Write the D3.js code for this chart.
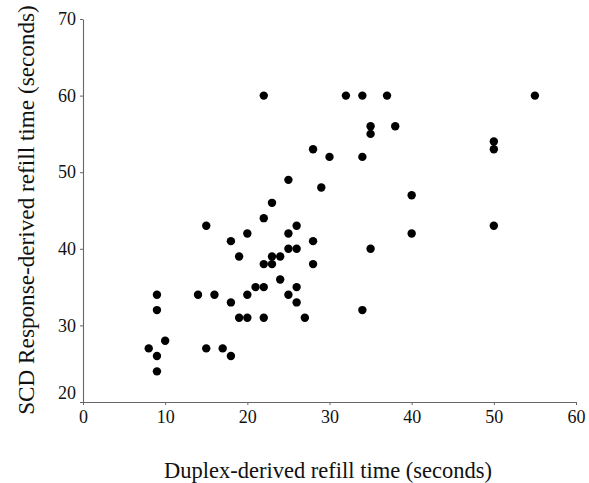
<!DOCTYPE html>
<html>
<head>
<meta charset="utf-8">
<script src="https://cdn.jsdelivr.net/npm/d3@7"></script>
<style>
  body { margin: 0; background: #fff; }
  text { font-family: "Liberation Serif", "Times New Roman", serif; fill: #111; }
</style>
</head>
<body>
<svg id="chart" width="589" height="483"></svg>
<script>

// Duplex-derived refill time (x) vs SCD response-derived refill time (y), seconds
const duplexTimes = [22, 32, 34, 37, 55, 35, 38, 35, 50, 50, 28, 30, 34, 25, 29, 40, 23, 22,
                     15, 26, 50, 20, 25, 40, 18, 28, 25, 26, 35, 19, 23, 24, 22, 23, 28, 24,
                     21, 22, 26, 9, 14, 16, 20, 25, 18, 26, 9, 34, 19, 20, 22, 27, 10, 8,
                     15, 17, 9, 18, 9];
const scdTimes    = [60, 60, 60, 60, 60, 56, 56, 55, 54, 53, 53, 52, 52, 49, 48, 47, 46, 44,
                     43, 43, 43, 42, 42, 42, 41, 41, 40, 40, 40, 39, 39, 39, 38, 38, 38, 36,
                     35, 35, 35, 34, 34, 34, 34, 34, 33, 33, 32, 32, 31, 31, 31, 31, 28, 27,
                     27, 27, 26, 26, 24];
const xTicks = [0, 10, 20, 30, 40, 50, 60];
const yTicks = [20, 30, 40, 50, 60, 70];

const svg = d3.select("#chart");

// Plot area
const plotLeft = 83, plotRight = 576, plotTop = 19, plotBottom = 402;

const x = d3.scaleLinear().domain([0, 60]).range([plotLeft, plotRight]);
const y = d3.scaleLinear().domain([20, 70]).range([plotBottom, plotTop]);

// Axes
const xAxis = svg.append("g")
    .attr("transform", `translate(0,${plotBottom})`)
    .call(d3.axisBottom(x).tickValues(xTicks).tickSize(3).tickPadding(5).tickSizeOuter(0));
const yAxis = svg.append("g")
    .attr("transform", `translate(${plotLeft},0)`)
    .call(d3.axisLeft(y).tickValues(yTicks).tickSize(3).tickPadding(4).tickSizeOuter(0));

[xAxis, yAxis].forEach(g => {
    g.attr("font-family", "'Liberation Serif', 'Times New Roman', serif").attr("font-size", 18);
    g.select(".domain").attr("stroke", "#666").attr("stroke-width", 1.1);
    g.selectAll(".tick line").attr("stroke", "#666");
    g.selectAll(".tick text").attr("fill", "#111");
});

// the lowest y label sits a little above its tick, clear of the x axis labels
yAxis.selectAll(".tick text").filter(d => d === 20).attr("y", -9);

// Points
svg.append("g")
    .selectAll("circle")
    .data(duplexTimes.map((d, i) => [d, scdTimes[i]]))
    .enter()
    .append("circle")
    .attr("cx", d => x(d[0]))
    .attr("cy", d => y(d[1]))
    .attr("r", 4.2)
    .attr("fill", "#000");

// Axis titles
svg.append("text")
    .attr("x", 328)
    .attr("y", 478)
    .attr("text-anchor", "middle")
    .style("font-size", "22.5px")
    .text("Duplex-derived refill time (seconds)");

svg.append("text")
    .attr("transform", "translate(34,210) rotate(-90)")
    .attr("text-anchor", "middle")
    .style("font-size", "23.2px")
    .text("SCD Response-derived refill time (seconds)");
</script>
</body>
</html>
